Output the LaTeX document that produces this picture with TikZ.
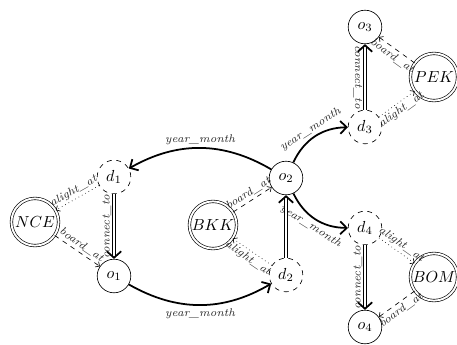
\documentclass[tikz,border=0pt]{standalone}
\usetikzlibrary{arrows.meta}
\begin{document}
\begin{tikzpicture}[x=0.625pt,y=-0.625pt,
 onode/.style={circle,draw,minimum size=21pt,inner sep=0pt},
 dnode/.style={circle,draw,dashed,minimum size=21pt,inner sep=0pt},
 anode/.style={circle,draw,double,double distance=1.2pt,minimum size=29.5pt,inner sep=0pt},
 ym/.style={-{Straight Barb[length=4pt,width=8pt]},line width=1.1pt},
 conn/.style={-{Straight Barb[line width=1.1pt,length=4pt,width=9pt]},double,double distance=1.4pt,line width=0.45pt},
 alight/.style={-{Straight Barb[length=2pt,width=4pt]},dotted},
 board/.style={-{Straight Barb[length=2pt,width=4pt]},dashed},
 lab/.style={font=\scriptsize\itshape,inner sep=1.5pt,text=black!85}
]
\useasboundingbox (0,0) rectangle (457,344);
\node[dnode] (d1) at (114,177) {$d_1$};
\node[anode] (nce) at (35,222) {$NCE$};
\node[onode] (o1) at (114,276) {$o_1$};
\node[dnode] (d2) at (286,275) {$d_2$};
\node[anode] (bkk) at (213,225) {$BKK$};
\node[onode] (o2) at (286,178) {$o_2$};
\node[dnode] (d3) at (365,127) {$d_3$};
\node[onode] (o3) at (365,27) {$o_3$};
\node[anode] (pek) at (434,77) {$PEK$};
\node[dnode] (d4) at (365,228) {$d_4$};
\node[onode] (o4) at (365,327) {$o_4$};
\node[anode] (bom) at (434,277) {$BOM$};

\draw[ym] (o2) to[bend right=30] node[lab,above] {year\_month} (d1);
\draw[ym] (o1) to[bend right=30] node[lab,below] {year\_month} (d2);
\draw[ym] (o2) to[bend left=32] node[lab,above,sloped] {year\_month} (d3);
\draw[ym] (o2) to[bend right=32] node[lab,below,sloped] {year\_month} (d4);

\draw[alight] (d1) -- node[lab,above,sloped] {alight\_at} (nce);
\draw[board] (nce) -- node[lab,above,sloped] {board\_at} (o1);
\draw[conn] (d1) -- node[lab,rotate=90,anchor=south] {connect\_to} (o1);

\draw[board] (bkk) -- node[lab,above,sloped] {board\_at} (o2);
\draw[alight] (d2) -- node[lab,below,sloped] {alight\_at} (bkk);
\draw[conn] (d2) -- (o2);

\draw[conn] (d3) -- node[lab,rotate=-90,anchor=north] {connect\_to} (o3);
\draw[board] (pek) -- node[lab,below,sloped] {board\_at} (o3);
\draw[alight] (d3) -- node[lab,below,sloped] {alight\_at} (pek);

\draw[conn] (d4) -- node[lab,rotate=90,anchor=south] {connect\_to} (o4);
\draw[alight] (d4) -- node[lab,above,sloped] {alight\_at} (bom);
\draw[board] (bom) -- node[lab,below,sloped] {board\_at} (o4);
\end{tikzpicture}
\end{document}
